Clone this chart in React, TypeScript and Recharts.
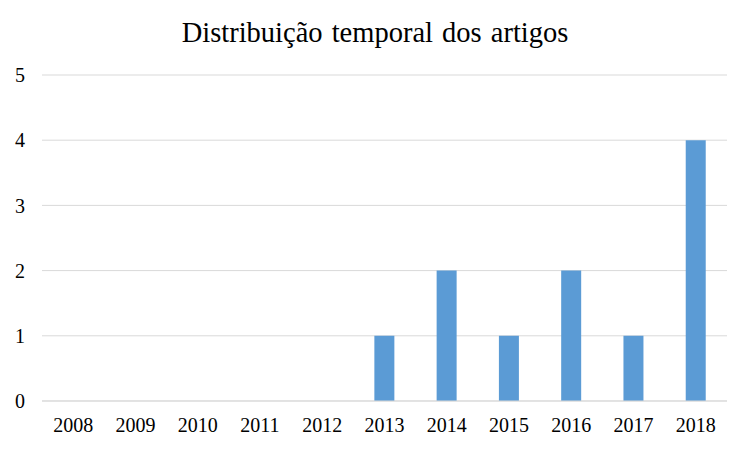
import React from "react";
import { BarChart, Bar, XAxis, YAxis, CartesianGrid } from "recharts";

const years = ["2008", "2009", "2010", "2011", "2012", "2013", "2014", "2015", "2016", "2017", "2018"];
const counts = [0, 0, 0, 0, 0, 1, 2, 1, 2, 1, 4];
const yTicks = [0, 1, 2, 3, 4, 5];
const title = "Distribuição temporal dos artigos";

const data = years.map((y, i) => ({ year: y, value: counts[i] }));

const FONT = "'Liberation Serif', 'Times New Roman', serif";

export default function App() {
  return (
    <div style={{ position: "absolute", left: 0, top: 0, width: 750, height: 450, background: "#fff" }}>
      <div
        style={{
          position: "absolute",
          left: 0,
          top: 18,
          width: 750,
          textAlign: "center",
          fontFamily: FONT,
          fontSize: 28.5,
          lineHeight: "29px",
          wordSpacing: 2,
          color: "#000",
          whiteSpace: "nowrap",
        }}
      >
        {title}
      </div>
      <BarChart
        width={750}
        height={450}
        data={data}
        margin={{ top: 75, right: 23, bottom: 0, left: 0 }}
        barCategoryGap={0}
      >
        <CartesianGrid vertical={false} stroke="#D9D9D9" strokeWidth={1} />
        <XAxis
          dataKey="year"
          height={49}
          axisLine={{ stroke: "#D9D9D9" }}
          tickLine={false}
          tickSize={8}
          tickMargin={9}
          tick={{ fill: "#000", fontSize: 20, fontFamily: FONT }}
          interval={0}
        />
        <YAxis
          width={42}
          domain={[0, 5]}
          ticks={yTicks}
          axisLine={false}
          tickLine={false}
          tickSize={8}
          tickMargin={9}
          tick={{ fill: "#000", fontSize: 20, fontFamily: FONT }}
        />
        <Bar dataKey="value" fill="#5B9BD5" barSize={20} isAnimationActive={false} />
      </BarChart>
    </div>
  );
}
